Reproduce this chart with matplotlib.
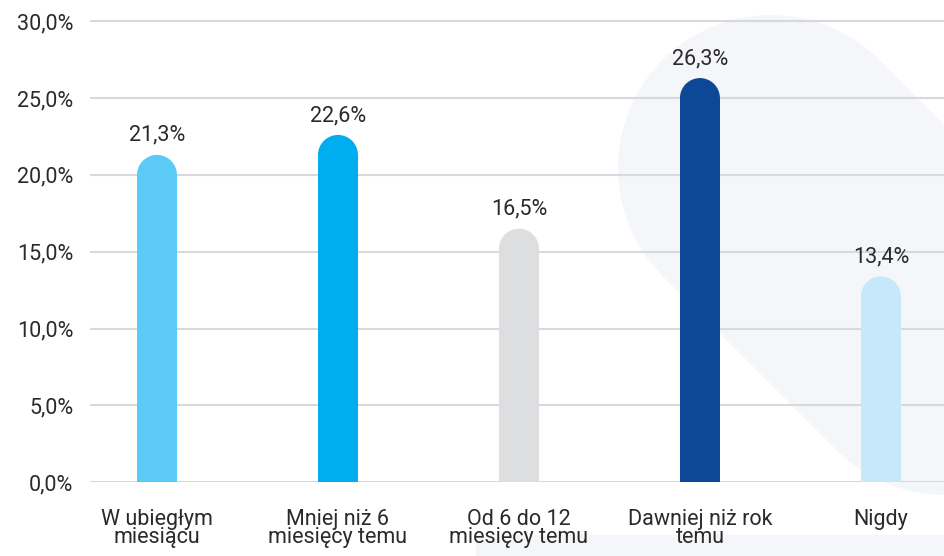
import matplotlib.pyplot as plt
from matplotlib.lines import Line2D
from matplotlib.patches import Ellipse, Rectangle

categories = ["W ubiegłym\nmiesiącu", "Mniej niż 6\nmiesięcy temu",
              "Od 6 do 12\nmiesięcy temu", "Dawniej niż rok\ntemu", "Nigdy"]
values = [21.3, 22.6, 16.5, 26.3, 13.4]
bar_colors = ["#5bcbf5", "#00aeef", "#dddee0", "#0d4897", "#c7e8f8"]
y_ticks = [0, 5, 10, 15, 20, 25, 30]

W, H = 945, 556
TEXT = "#2a2a2a"
GRID = "#d8d9dc"
SHAPE = "#f5f6fa"
FS = 15.5


def fmt(v: float) -> str:
    """
    Format a number as polish percent string.
    """

    return f"{v:.1f}".replace(".", ",") + "%"


def draw_background(fig) -> None:
    """
    Draw the light rounded diagonal stripe behind the chart.
    """

    # stripe centre line in pixels (y from top), round cap = top-left end
    x0, y0 = 771, 168
    x1, y1 = 1400, 797
    stripe = Line2D([x0 / W, x1 / W], [1 - y0 / H, 1 - y1 / H],
                    transform=fig.transFigure, color=SHAPE,
                    linewidth=306 * 72 / fig.dpi, solid_capstyle="round",
                    zorder=0)
    fig.add_artist(stripe)
    fig.add_artist(Rectangle((476 / W, 0), 1, 21 / H,
                             transform=fig.transFigure, color=SHAPE,
                             zorder=0))


def draw_bars(ax, px_x: float, px_y: float) -> None:
    """
    Draw bars with rounded tops and their value labels.
    """

    width = 40 / px_x
    r_y = 20 / px_y
    for i, (v, c) in enumerate(zip(values, bar_colors)):
        ax.bar(i, v - r_y, width=width, color=c, linewidth=0, zorder=3)
        ax.add_patch(Ellipse((i, v - r_y), width, 2 * r_y, facecolor=c,
                             linewidth=0, zorder=3))
        ax.text(i, v + 14 / px_y, fmt(v), ha="center", va="baseline",
                fontsize=FS, color=TEXT)


def main():
    """
    Build the chart and save it.
    """

    plt.rcParams["font.family"] = ["Roboto", "DejaVu Sans"]
    fig = plt.figure(figsize=(W / 100, H / 100), dpi=100)
    draw_background(fig)

    left, right = 90, 945
    bottom_px = 482.3
    px_y = 15.37
    ymax = 30.5
    ax = fig.add_axes([left / W, 1 - bottom_px / H,
                       (right - left) / W, ymax * px_y / H])
    ax.patch.set_visible(False)

    xmin, xmax = -0.37, 4.354
    ax.set_xlim(xmin, xmax)
    ax.set_ylim(0, ymax)
    px_x = (right - left) / (xmax - xmin)

    ax.set_yticks(y_ticks)
    ax.set_yticklabels([fmt(t) for t in y_ticks])
    ax.yaxis.grid(True, color=GRID, linewidth=1.5, zorder=1)
    ax.set_axisbelow(True)
    ax.set_xticks(range(len(categories)))
    ax.set_xticklabels(categories, linespacing=0.85)
    ax.tick_params(axis="both", length=0, labelsize=FS, colors=TEXT)
    ax.tick_params(axis="x", pad=19)
    ax.tick_params(axis="y", pad=12)
    for s in ax.spines.values():
        s.set_visible(False)

    draw_bars(ax, px_x, px_y)

    fig.savefig("out.png", dpi=100)


if __name__ == "__main__":

    main()
